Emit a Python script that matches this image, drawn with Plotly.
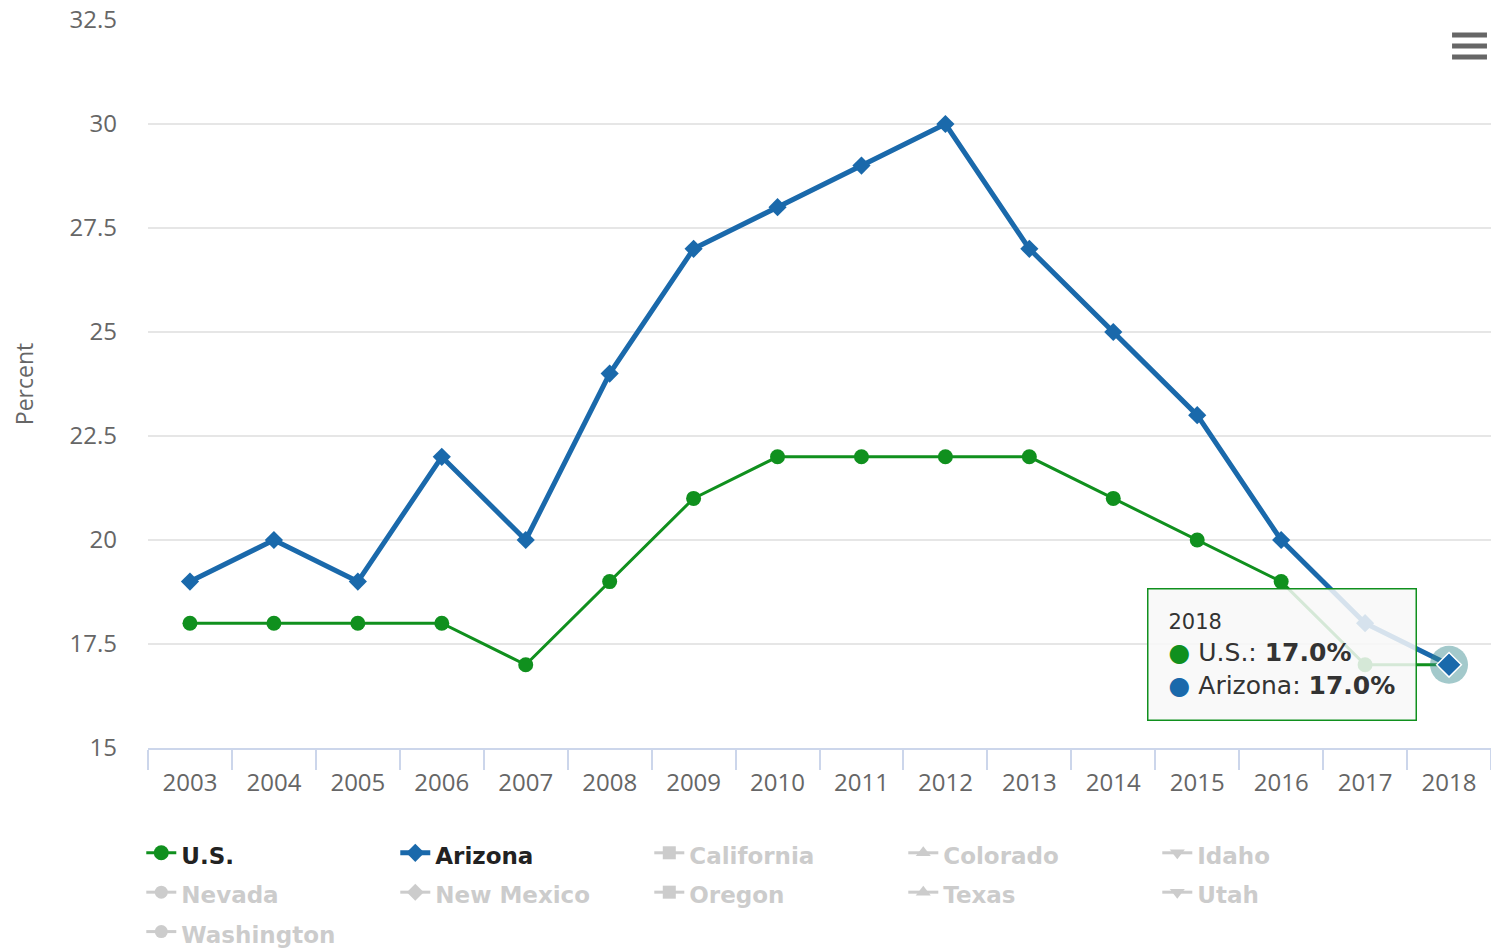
import plotly.graph_objects as go

years = [str(y) for y in range(2003, 2019)]
us_values = [18, 18, 18, 18, 17, 19, 21, 22, 22, 22, 22, 21, 20, 19, 17, 17]
arizona_values = [19, 20, 19, 22, 20, 24, 27, 28, 29, 30, 27, 25, 23, 20, 18, 17]
hidden_series = ["California", "Colorado", "Idaho", "Nevada", "New Mexico",
                 "Oregon", "Texas", "Utah", "Washington"]
hidden_symbols = ["square", "triangle-up", "triangle-down", "circle", "diamond",
                  "square", "triangle-up", "triangle-down", "circle"]
y_ticks = [15, 17.5, 20, 22.5, 25, 27.5, 30, 32.5]
y_tick_text = ["15", "17.5", "20", "22.5", "25", "27.5", "30", "32.5"]

GREEN = "#10901e"
BLUE = "#1a69ab"
HIDDEN = "#9a9a9a"


def legend_label(text, color=None):
    style = "font-size:23px"
    if color:
        style += f";color:{color}"
    return f"<span style='{style}'><b>{text}</b></span>"


fig = go.Figure()

fig.add_trace(go.Scatter(
    x=years, y=us_values, name=legend_label("U.S."), mode="lines+markers",
    line=dict(color=GREEN, width=3),
    marker=dict(symbol="circle", size=15, color=GREEN),
))
fig.add_trace(go.Scatter(
    x=years, y=arizona_values, name=legend_label("Arizona"), mode="lines+markers",
    line=dict(color=BLUE, width=5),
    marker=dict(symbol="diamond", size=14, color=BLUE),
))
for name, sym in zip(hidden_series, hidden_symbols):
    fig.add_trace(go.Scatter(
        x=years, y=[None] * len(years), visible="legendonly",
        name=legend_label(name, HIDDEN),
        mode="lines+markers", line=dict(color=HIDDEN, width=3),
        marker=dict(symbol=sym, size=13, color=HIDDEN),
    ))

last = len(years) - 1

# hover halo and highlighted point at 2018
fig.add_trace(go.Scatter(
    x=[years[last]], y=[arizona_values[last]], mode="markers", showlegend=False,
    hoverinfo="skip",
    marker=dict(symbol="circle", size=38, color="rgba(50,135,140,0.45)"),
))
fig.add_trace(go.Scatter(
    x=[years[last]], y=[arizona_values[last]], mode="markers", showlegend=False,
    hoverinfo="skip",
    marker=dict(symbol="diamond", size=19, color=BLUE,
                line=dict(color="white", width=1.5)),
))

fig.add_annotation(
    x=last, y=us_values[last], xref="x", yref="y",
    showarrow=True, arrowcolor="rgba(0,0,0,0)", ax=-167, ay=-10,
    text=("<span style='font-size:21px;color:#333'>2018</span><br>"
          f"<span style='color:{GREEN}'>●</span> U.S.: <b>17.0%</b><br>"
          f"<span style='color:{BLUE}'>●</span> Arizona: <b>17.0%</b>"),
    align="left", font=dict(family="DejaVu Sans", size=25, color="#333"),
    bgcolor="rgba(248,248,248,0.85)", bordercolor=GREEN, borderwidth=1.5,
    borderpad=20,
)

# export menu icon (three bars)
for yy in (0.9794, 0.9643, 0.9492):
    fig.add_shape(type="line", xref="paper", yref="paper",
                  x0=0.971, x1=0.997, y0=yy, y1=yy,
                  line=dict(color="#666", width=5))

fig.update_layout(
    width=1491, height=948,
    margin=dict(l=148, r=0, t=20, b=200, autoexpand=False),
    paper_bgcolor="white", plot_bgcolor="white",
    font=dict(family="Open Sans", color="#666"),
    showlegend=True, hovermode=False,
    legend=dict(
        orientation="h", x=-0.005, y=-0.11, xanchor="left", yanchor="top",
        entrywidth=209, entrywidthmode="pixels",
        font=dict(family="DejaVu Sans", size=28, color="#222"),
        itemclick=False, itemdoubleclick=False,
    ),
    xaxis=dict(
        type="category", tickson="boundaries", ticks="outside", ticklen=20,
        tickcolor="#ccd6eb", tickwidth=1.5, showline=True, linecolor="#ccd6eb",
        linewidth=1.5, showgrid=False, ticklabelstandoff=12,
        tickfont=dict(family="Open Sans", size=24, color="#666"),
        range=[-0.5, 15.5],
    ),
    yaxis=dict(
        range=[15, 32.5], tickvals=y_ticks, ticktext=y_tick_text,
        showgrid=True, gridcolor="#e6e6e6", gridwidth=1.5, zeroline=False,
        tickfont=dict(family="Open Sans", size=24, color="#666"),
        ticklabelstandoff=30, ticklabeloverflow="allow",
        title=dict(text="Percent", standoff=29,
                   font=dict(family="Open Sans", size=23, color="#666")),
    ),
)

fig.write_html("out.html",
               config={"displayModeBar": False},
               post_script="document.body.style.margin='0';"
                           "document.body.style.overflow='hidden';")
